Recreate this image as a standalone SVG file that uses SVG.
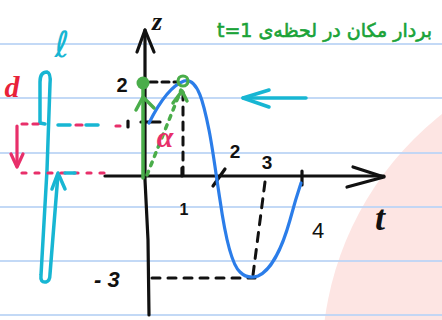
<svg xmlns="http://www.w3.org/2000/svg" width="442" height="320" viewBox="0 0 442 320">
<defs>
<style>
.rule{stroke:#bdd5f6;stroke-width:2;opacity:0.9}
.blk{stroke:#111;stroke-width:3.2;fill:none;stroke-linecap:round;stroke-linejoin:round}
.dash{stroke:#111;stroke-width:3;fill:none;stroke-linecap:round}
.grn{stroke:#4aad4a;stroke-width:3.5;fill:none;stroke-linecap:round;stroke-linejoin:round}
.cyan{stroke:#17b6d3;stroke-width:3.5;fill:none;stroke-linecap:round;stroke-linejoin:round}
.pink{stroke:#e82f6a;stroke-width:3.2;fill:none;stroke-linecap:round;stroke-linejoin:round}
.lbl{font-family:"Liberation Sans",Arial,sans-serif;font-weight:bold;fill:#111}
</style>
</defs>
<rect width="442" height="320" fill="#ffffff"/>
<circle cx="636" cy="361" r="314" fill="#fde5e3"/>
<g id="rules">
<line class="rule" x1="0" y1="44" x2="442" y2="44"/>
<line class="rule" x1="0" y1="98" x2="442" y2="98"/>
<line class="rule" x1="0" y1="153" x2="442" y2="153"/>
<line class="rule" x1="0" y1="207" x2="442" y2="207"/>
<line class="rule" x1="0" y1="261" x2="442" y2="261"/>
<line class="rule" x1="0" y1="315" x2="442" y2="315"/>
</g>
<g id="title">
<text x="432" y="37" direction="rtl" text-anchor="start" font-family="'DejaVu Sans','Noto Sans',sans-serif" font-size="19" fill="#1aa338" stroke="#1aa338" stroke-width="0.6">بردار مکان در لحظه‌ی t=1</text>
</g>
<g id="axes">
<path class="blk" d="M145,30 L145,180 L148,240 L149,315"/>
<path class="blk" d="M137,52 L145,30 L154,52"/>
<path class="blk" d="M105,176 L384,176"/>
<path class="blk" d="M353,167 L384,177 L347,187"/>
<path class="blk" d="M182,168 L182,176"/>
<path class="blk" d="M213,186 L225,169"/>
<path class="blk" d="M302,171 L302,185"/>
<path class="blk" d="M141,122 L160,122"/>
<path class="blk" d="M128,121 L128,127"/>
<text x="157" y="30" font-family="'Liberation Serif',serif" font-style="italic" font-weight="bold" font-size="26" fill="#111" text-anchor="middle">z</text>
<text x="380" y="230" font-family="'Liberation Serif',serif" font-style="italic" font-weight="bold" font-size="36" fill="#111" text-anchor="middle">t</text>
</g>
<g id="labels">
<text class="lbl" x="122" y="92" font-size="20" text-anchor="middle">2</text>
<text class="lbl" x="184" y="215" font-size="16" text-anchor="middle">1</text>
<text class="lbl" x="235" y="158" font-size="19" text-anchor="middle">2</text>
<text class="lbl" x="267" y="169" font-size="19" text-anchor="middle">3</text>
<text x="318" y="238" font-family="'Liberation Sans',sans-serif" font-size="22" fill="#111" text-anchor="middle">4</text>
<text class="lbl" x="94" y="287" font-size="22" font-style="italic">- 3</text>
</g>
<g id="guides">
<path class="dash" d="M150,82 L178,82" stroke-dasharray="7,5"/>
<path class="dash" d="M183,92 L183,176" stroke-dasharray="8,7"/>
<path class="dash" d="M265,182 L253,275" stroke-dasharray="9,8"/>
<path class="dash" d="M152,278 L255,278" stroke-dasharray="8,8"/>
</g>
<g id="curve">
<path d="M149,123 C158,105 170,86 184,81 C198,77 204,105 209,130 C213,150 216,175 220,200 C225,235 232,265 240,272 C245,277 252,278 258,276 C272,270 283,245 290,220 C294,205 298,192 301,183" fill="none" stroke="#2b7de9" stroke-width="3.2" stroke-linecap="round"/>
</g>
<g id="vector">
<path class="grn" d="M143,178 L143,88"/>
<circle cx="143" cy="83" r="6.5" fill="#4aad4a"/>
<path class="grn" d="M136,110 L143,97 L154,108"/>
<path class="grn" d="M147,175 L181,90" stroke-dasharray="4,6"/>
<circle cx="183" cy="81" r="5" fill="none" stroke="#4aad4a" stroke-width="3.2"/>
<path class="grn" d="M173,103 L182,91 L187,101"/>
<text x="165" y="147" font-family="'Liberation Serif',serif" font-style="italic" font-weight="bold" font-size="30" fill="#e82f6a" text-anchor="middle">α</text>
</g>
<g id="rod">
<path class="cyan" d="M40,123 L40,82 Q40,72 47,72 Q51,73 50,84 L47,170 L41,275 Q40,283 46,282 Q50,281 50,274 L58,174"/>
<path class="cyan" d="M52,189 L58,173 L65,189"/>
<text x="62" y="57" font-family="'DejaVu Sans',sans-serif" font-size="36" fill="#17b6d3" text-anchor="middle">ℓ</text>
<path class="cyan" d="M40,123 L45,124"/>
<path class="cyan" d="M58,125 L70,125 M86,125 L98,125"/>
<path class="pink" d="M22,124 L44,124" stroke-dasharray="5,6"/>
<path class="pink" d="M76,125 L82,125 M116,126 L120,126"/>
<path class="pink" d="M22,173 L105,173" stroke-dasharray="4,9"/>
<path class="cyan" d="M65,173 L75,173"/>
<path class="pink" d="M17,126 L17,166"/>
<path class="pink" d="M11,154 L17,167 L23,154"/>
<text x="12" y="97" font-family="'Liberation Serif',serif" font-style="italic" font-weight="bold" font-size="30" fill="#e8223a" text-anchor="middle">d</text>
</g>
<g id="motion-arrow">
<path class="cyan" d="M243,98 L306,98"/>
<path class="cyan" d="M269,90 L243,98 L269,107"/>
</g>
</svg>
